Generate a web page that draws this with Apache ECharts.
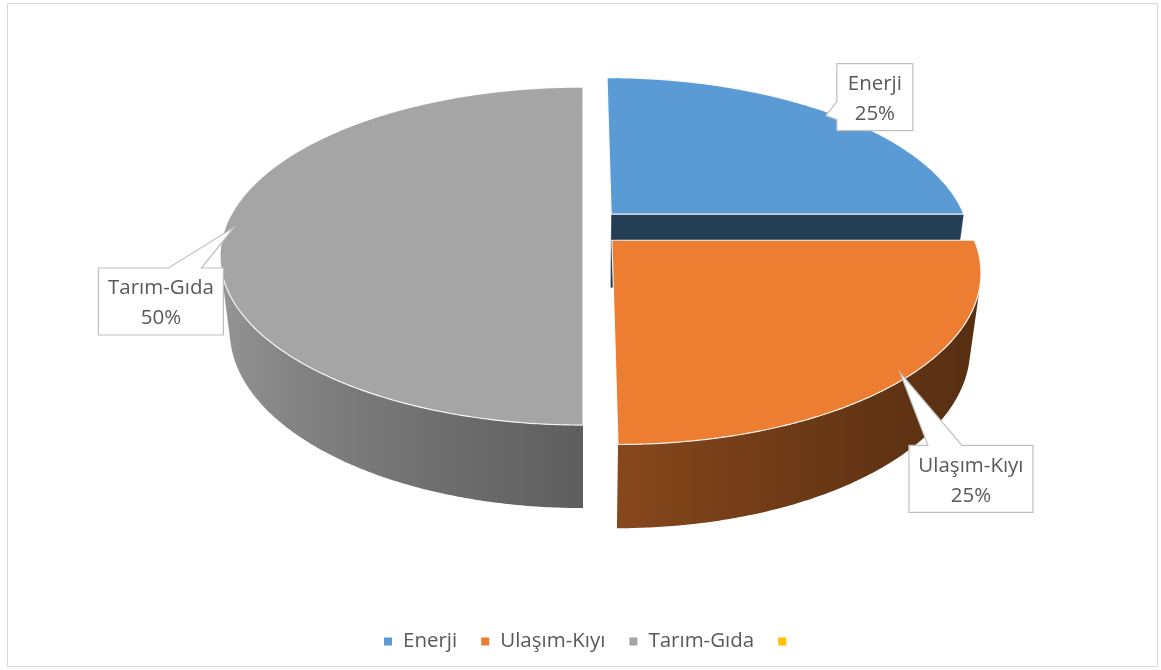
<!DOCTYPE html>
<html>
<head>
<meta charset="utf-8">
<script src="https://cdn.jsdelivr.net/npm/echarts@6/dist/echarts.min.js"></script>
<style>
  html, body { margin: 0; padding: 0; background: #ffffff; }
  #chart { width: 1161px; height: 670px; }
</style>
</head>
<body>
<div id="chart"></div>
<script>
// Sector shares (percent); the last category has no name and no value
const categories = ['Enerji', 'Ulaşım-Kıyı', 'Tarım-Gıda', ''];
const shares = [25, 25, 50, 0];
const palette = ['#5B9BD5', '#ED7D31', '#A5A5A5', '#FFC000'];

// ---- 3D pie view setup ----
const FONT = '"Open Sans", "Noto Sans", sans-serif';
const FONT_SIZE = 20.5;
const TEXT_COLOR = '#595959';
const view = {
  cx: 583, cy: 227,        // projected pie centre
  radius: 328, depth: 88,  // disc radius and thickness (world units)
  eye: 1651,               // camera distance for perspective
  tilt: 30 * Math.PI / 180,
  stretchX: 1.09,
  step: 0.5 * Math.PI / 180
};
const explodeBy = [37, 37, 0, 0];
const labelReach = 0.975;   // leader tip as a fraction of the radius
// callout boxes, relative to each leader tip: [dx, dy, w, h], wedge side and base span
const callouts = [
  { box: [11, -52, 76, 67], side: 'left', base: [-14, 4] },
  { box: [9, 73, 124, 67], side: 'top', base: [28, 62] },
  { box: [-136, 41, 125, 67], side: 'top', base: [-66, -33] },
  null
];

const sinT = Math.sin(view.tilt), cosT = Math.cos(view.tilt);
const camY = view.eye * sinT, camZ = view.eye * cosT;

function project(X, Y, Z) {
  const v = Z * sinT - Y * cosT;
  const w = Z * cosT + Y * sinT;
  const s = view.eye / (view.eye - w);
  return [view.cx + view.stretchX * X * s, view.cy + v * s];
}

// angles run clockwise from the back (12 o'clock)
const total = shares.reduce((a, b) => a + b, 0);
let acc = 0;
const geom = shares.map((v, i) => {
  const a0 = acc / total * 2 * Math.PI;
  acc += v;
  const a1 = acc / total * 2 * Math.PI;
  const mid = (a0 + a1) / 2;
  return {
    a0, a1, mid,
    ox: explodeBy[i] * Math.sin(mid),
    oz: -explodeBy[i] * Math.cos(mid)
  };
});

function rim(g, th, r, Y) {
  return project(g.ox + r * Math.sin(th), Y, g.oz - r * Math.cos(th));
}

// simple directional light coming from the left
function lightFactor(nx, nz) {
  return 0.67 - 0.28 * nx - 0.10 * nz;
}
function shade(hex, f) {
  const n = parseInt(hex.slice(1), 16);
  const c = [(n >> 16) & 255, (n >> 8) & 255, n & 255].map(x => Math.max(0, Math.min(255, Math.round(x * f))));
  return 'rgb(' + c.join(',') + ')';
}

function wallVisible(g, th) {
  const R = view.radius;
  return -R - g.ox * Math.sin(th) + g.oz * Math.cos(th) - camZ * Math.cos(th) > 0;
}

function drawSlice(i) {
  const g = geom[i];
  const R = view.radius, H = view.depth;
  const base = palette[i];
  const children = [];

  // flat cut faces (faces seen almost edge-on are left out)
  const faces = [
    { th: g.a0, n: [-Math.cos(g.a0), -Math.sin(g.a0)] },
    { th: g.a1, n: [Math.cos(g.a1), Math.sin(g.a1)] }
  ];
  faces.forEach(f => {
    const tx = -g.ox, tz = camZ - g.oz;
    const facing = (f.n[0] * tx + f.n[1] * tz) / Math.hypot(tx, camY, tz);
    if (facing <= 0.05) return;
    children.push({
      type: 'polygon',
      shape: { points: [project(g.ox, 0, g.oz), rim(g, f.th, R, 0), rim(g, f.th, R, -H), project(g.ox, -H, g.oz)] },
      style: { fill: shade(base, lightFactor(f.n[0], f.n[1]) * 0.7), stroke: 'rgba(255,255,255,0.5)', lineWidth: 0.6 }
    });
  });

  // curved outer wall, only the part turned toward the camera
  const steps = Math.max(2, Math.ceil((g.a1 - g.a0) / view.step));
  const vis = [];
  for (let k = 0; k <= steps; k++) {
    const th = g.a0 + (g.a1 - g.a0) * k / steps;
    if (wallVisible(g, th)) vis.push(th);
  }
  if (vis.length > 1) {
    const topPts = vis.map(th => rim(g, th, R, 0));
    const botPts = vis.map(th => rim(g, th, R, -H));
    const xs = topPts.concat(botPts).map(p => p[0]);
    const minX = Math.min(...xs), maxX = Math.max(...xs);
    const stops = vis.map((th, k) => ({
      offset: Math.max(0, Math.min(1, (topPts[k][0] - minX) / (maxX - minX))),
      color: shade(base, lightFactor(Math.sin(th), -Math.cos(th)))
    })).sort((a, b) => a.offset - b.offset);
    children.push({
      type: 'polygon',
      shape: { points: topPts.concat(botPts.slice().reverse()) },
      style: { fill: new echarts.graphic.LinearGradient(0, 0, 1, 0, stops) }
    });
  }

  // top face
  const topFace = [project(g.ox, 0, g.oz)];
  for (let k = 0; k <= steps; k++) {
    topFace.push(rim(g, g.a0 + (g.a1 - g.a0) * k / steps, R, 0));
  }
  children.push({
    type: 'polygon',
    shape: { points: topFace },
    style: { fill: base, stroke: 'rgba(255,255,255,0.9)', lineWidth: 1.2, lineJoin: 'round' }
  });

  return { type: 'group', children };
}

function drawCallout(i) {
  const c = callouts[i];
  const g = geom[i];
  if (!c || !(g.a1 > g.a0)) return null;
  const tip = rim(g, g.mid, view.radius * labelReach, 0);
  const L = tip[0] + c.box[0], T = tip[1] + c.box[1];
  const Rr = L + c.box[2], B = T + c.box[3];
  let pts;
  if (c.side === 'left') {
    pts = [[L, T], [Rr, T], [Rr, B], [L, B], [L, tip[1] + c.base[1]], tip, [L, tip[1] + c.base[0]]];
  } else {
    pts = [[L, T], [tip[0] + c.base[0], T], tip, [tip[0] + c.base[1], T], [Rr, T], [Rr, B], [L, B]];
  }
  const pct = Math.round(shares[i] / total * 100) + '%';
  return {
    type: 'group',
    children: [
      { type: 'polygon', shape: { points: pts },
        style: { fill: '#ffffff', stroke: '#BFBFBF', lineWidth: 1.2, lineJoin: 'miter' } },
      { type: 'text',
        style: { text: categories[i] + '\n' + pct, x: (L + Rr) / 2, y: (T + B) / 2 + 2,
                 align: 'center', verticalAlign: 'middle', fill: TEXT_COLOR,
                 fontSize: FONT_SIZE, fontFamily: FONT, lineHeight: 30 } }
    ]
  };
}

// paint slices from back to front
const depthRank = geom.map((g, i) => i).sort((a, b) => geom[a].oz - geom[b].oz);

const series = categories.map((name, i) => ({
  type: 'custom',
  name: name || ' ',
  coordinateSystem: 'none',
  silent: true,
  z: 2 + depthRank.indexOf(i),
  itemStyle: { color: palette[i] },
  data: shares[i] > 0 ? [[i]] : [],
  renderItem: () => drawSlice(i)
}));
series.push({
  type: 'custom',
  name: 'callouts',
  coordinateSystem: 'none',
  silent: true,
  z: 20,
  data: categories.map((c, i) => [i]),
  renderItem: (params) => drawCallout(params.dataIndex)
});

const chart = echarts.init(document.getElementById('chart'));
chart.setOption({
  animation: false,
  color: palette,
  backgroundColor: '#ffffff',
  graphic: [{
    type: 'rect', silent: true, z: 0,
    shape: { x: 7.5, y: 3.5, width: 1150, height: 663 },
    style: { fill: 'none', stroke: '#D9D9D9', lineWidth: 1 }
  }],
  legend: {
    data: categories.map(n => n || ' '),
    left: 379, top: 626,
    icon: 'rect', itemWidth: 8, itemHeight: 8, itemGap: 24,
    selectedMode: false,
    textStyle: { color: TEXT_COLOR, fontSize: FONT_SIZE, fontFamily: FONT, lineHeight: 20, padding: [0, 0, 0, 6] }
  },
  series
});
</script>
</body>
</html>
